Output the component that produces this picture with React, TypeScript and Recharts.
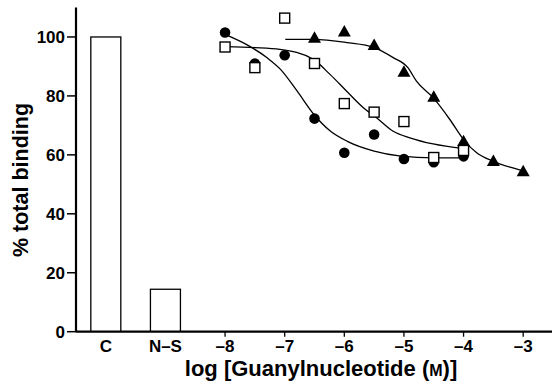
import React from 'react';
import { ComposedChart, Bar, Scatter, XAxis, YAxis, Label } from 'recharts';

// Bars (controls)
const barCategories = ['C', 'N\u2013S'];
const barPositions = [-10, -9];
const barValues = [100, 14.4];

// Axis ticks
const xTicks = [-10, -9, -8, -7, -6, -5, -4, -3];
const yTicks = [0, 20, 40, 60, 80, 100];

// Data points: filled circles
const circleX = [-8, -7.5, -7, -6.5, -6, -5.5, -5, -4.5, -4];
const circleY = [101.5, 91.0, 93.8, 72.3, 60.7, 66.9, 58.6, 57.5, 59.5];
// Open squares
const squareX = [-8, -7.5, -7, -6.5, -6, -5.5, -5, -4.5, -4];
const squareY = [96.6, 89.6, 106.4, 91.0, 77.4, 74.5, 71.3, 59.1, 61.5];
// Filled triangles
const triangleX = [-6.5, -6, -5.5, -5, -4.5, -4, -3.5, -3];
const triangleY = [99.4, 101.5, 96.9, 87.9, 79.4, 64.3, 57.6, 54.1];

// Fitted curves
const circleCurveX = [-8, -7.6, -7.3, -7.07, -6.79, -6.51, -6.23, -5.95, -5.5, -5.05, -4.5, -4.0];
const circleCurveY = [100.9, 97, 93, 89.0, 81.6, 73.7, 68.0, 64.6, 61.3, 59.6, 59.0, 59.0];
const squareCurveX = [-8, -7.5, -7.08, -6.52, -6.24, -5.96, -5.68, -5.46, -5.18, -4.9, -4.51, -4.0];
const squareCurveY = [96.7, 96.4, 95.8, 92.4, 87.3, 81.6, 76.0, 72.6, 68.0, 65.8, 63.7, 62.1];
const triangleCurveX = [-6.99, -6.52, -5.96, -5.5, -5.18, -4.93, -4.79, -4.51, -4.23, -4.0, -3.78, -3.5, -3.22, -2.97];
const triangleCurveY = [99.2, 99.2, 98.1, 96.4, 93.0, 89.5, 85.0, 79.4, 72.0, 65.2, 60.7, 57.8, 55.8, 54.4];

const zip = (xs: number[], ys: number[]) => xs.map((x, i) => ({ x, v: ys[i] }));

const barData = barPositions.map((x, i) => ({ x, v: barValues[i], name: barCategories[i] }));
const circles = zip(circleX, circleY);
const squares = zip(squareX, squareY);
const triangles = zip(triangleX, triangleY);
const circleCurve = zip(circleCurveX, circleCurveY);
const squareCurve = zip(squareCurveX, squareCurveY);
const triangleCurve = zip(triangleCurveX, triangleCurveY);

const FONT = '"Liberation Sans", Arial, Helvetica, sans-serif';
const BAR_W = 30;

const CircleShape = (p: any) => <circle cx={p.cx} cy={p.cy} r={5.3} fill="#000" />;
const SquareShape = (p: any) => (
  <rect x={p.cx - 5} y={p.cy - 5} width={10} height={10} fill="#fff" stroke="#000" strokeWidth={1.4} />
);
const TriangleShape = (p: any) => (
  <path d={`M${p.cx},${p.cy - 7.5} L${p.cx + 6.5},${p.cy + 4} L${p.cx - 6.5},${p.cy + 4} Z`} fill="#000" />
);
const NoShape = () => <g />;

const BarShape = (p: any) => {
  const cx = p.x + (p.width || 0) / 2;
  return (
    <rect x={cx - BAR_W / 2} y={p.y} width={BAR_W} height={p.height} fill="#fff" stroke="#000" strokeWidth={1.3} />
  );
};

const XTick = (props: any) => {
  const { x, y, payload } = props;
  const val = payload.value;
  const idx = barPositions.indexOf(val);
  const label = idx >= 0 ? barCategories[idx] : `\u2013${Math.abs(val)}`;
  const axisY = y - 9;
  return (
    <g>
      {idx < 0 && <line x1={x} x2={x} y1={axisY} y2={axisY + 5} stroke="#000" strokeWidth={1.3} />}
      <text x={x} y={y} dy={11} textAnchor="middle" fontFamily={FONT} fontWeight="bold" fontSize={17} fill="#000">
        {label}
      </text>
    </g>
  );
};

const XLabel = (props: any) => {
  const vb = props.viewBox || {};
  const cx = vb.x + vb.width / 2 + 6.5;
  return (
    <text x={cx} y={376} textAnchor="middle" fontFamily={FONT} fontWeight="bold" fontSize={22} fill="#000">
      log [Guanylnucleotide (<tspan fontSize={16}>M</tspan>)]
    </text>
  );
};

const YLabel = () => (
  <text
    x={28}
    y={180}
    transform="rotate(-90, 28, 180)"
    textAnchor="middle"
    fontFamily={FONT}
    fontWeight="bold"
    fontSize={21.5}
    fill="#000"
  >
    % total binding
  </text>
);

export default function App() {
  return (
    <div style={{ position: 'absolute', left: 0, top: 0, width: 552, height: 383, overflow: 'hidden', background: '#fff' }}>
      <ComposedChart
        width={560}
        height={383}
        data={barData}
        margin={{ top: 7.5, right: 7, left: 0, bottom: 0 }}
      >
        <XAxis
          dataKey="x"
          type="number"
          domain={[-10.5, -2.5]}
          ticks={xTicks}
          allowDataOverflow
          height={51.3}
          tickLine={false}
          tickSize={5}
          tickMargin={4}
          tick={<XTick />}
          axisLine={{ stroke: '#000', strokeWidth: 2.2 }}
          interval={0}
        >
          <Label content={<XLabel />} />
        </XAxis>
        <YAxis
          dataKey="v"
          type="number"
          domain={[0, 110]}
          ticks={yTicks}
          allowDataOverflow
          width={76}
          tickSize={9}
          tickMargin={2}
          tickLine={{ stroke: '#000', strokeWidth: 1.5 }}
          axisLine={{ stroke: '#000', strokeWidth: 2.2 }}
          tick={{ fontFamily: FONT, fontWeight: 'bold', fontSize: 17, fill: '#000' }}
          interval={0}
        >
          <Label content={<YLabel />} />
        </YAxis>
        <Bar dataKey="v" shape={BarShape} isAnimationActive={false} />
        <Scatter data={circleCurve} line={{ stroke: '#000', strokeWidth: 1.3 }} lineJointType="monotoneX" shape={NoShape} isAnimationActive={false} />
        <Scatter data={squareCurve} line={{ stroke: '#000', strokeWidth: 1.3 }} lineJointType="monotoneX" shape={NoShape} isAnimationActive={false} />
        <Scatter data={triangleCurve} line={{ stroke: '#000', strokeWidth: 1.3 }} lineJointType="monotoneX" shape={NoShape} isAnimationActive={false} />
        <Scatter data={circles} shape={CircleShape} isAnimationActive={false} />
        <Scatter data={triangles} shape={TriangleShape} isAnimationActive={false} />
        <Scatter data={squares} shape={SquareShape} isAnimationActive={false} />
      </ComposedChart>
    </div>
  );
}
